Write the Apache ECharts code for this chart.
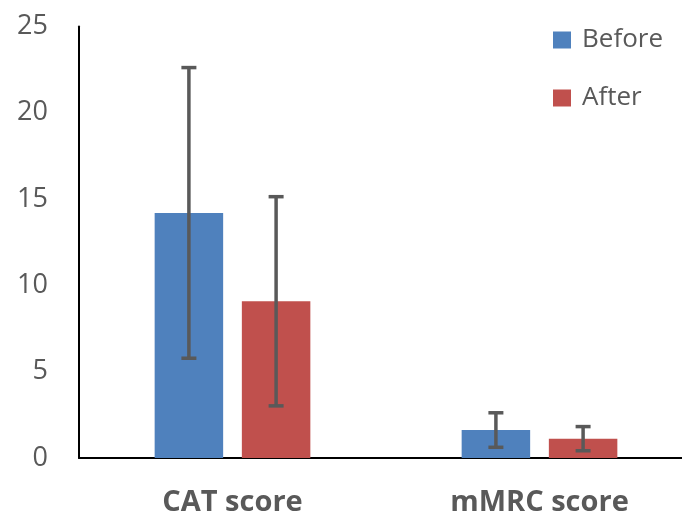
<!DOCTYPE html>
<html>
<head>
<meta charset="utf-8">
<script src="https://cdn.jsdelivr.net/npm/echarts@6/dist/echarts.min.js"></script>
<style>html,body{margin:0;padding:0;background:#fff}#c{width:682px;height:518px}</style>
</head>
<body>
<div id="c"></div>
<script>
var categories = ['CAT score', 'mMRC score'];
var beforeMean = [14.2, 1.62];
var beforeSD = [8.42, 1.0];
var afterMean = [9.08, 1.12];
var afterSD = [6.06, 0.7];
var yTicks = [0, 5, 10, 15, 20, 25];

var BAR_W = 68.5, BAR_GAP = 18.7;
var chart = echarts.init(document.getElementById('c'));

function errSeries(name, means, sds, sign) {
  var data = means.map(function (m, i) { return [i, m - sds[i], m + sds[i]]; });
  return {
    type: 'custom',
    name: name + ' err',
    data: data,
    z: 10,
    silent: true,
    renderItem: function (params, api) {
      var i = api.value(0);
      var lo = api.coord([i, api.value(1)]);
      var hi = api.coord([i, api.value(2)]);
      var x = lo[0] + sign * (BAR_W + BAR_GAP) / 2;
      var cap = 7.5;
      var st = { stroke: '#595959', lineWidth: 3.5 };
      return {
        type: 'group',
        children: [
          { type: 'line', shape: { x1: x, y1: lo[1], x2: x, y2: hi[1] }, style: st },
          { type: 'line', shape: { x1: x - cap, y1: lo[1], x2: x + cap, y2: lo[1] }, style: st },
          { type: 'line', shape: { x1: x - cap, y1: hi[1], x2: x + cap, y2: hi[1] }, style: st }
        ]
      };
    }
  };
}

chart.setOption({
  animation: false,
  backgroundColor: '#ffffff',
  grid: { left: 79, width: 614, top: 26.5, bottom: 60, containLabel: false, outerBoundsMode: 'none' },
  legend: {
    orient: 'vertical',
    left: 548,
    top: 22,
    itemWidth: 18,
    itemHeight: 17,
    itemGap: 32,
    icon: 'rect',
    data: ['Before', 'After'],
    textStyle: { fontFamily: 'Open Sans', fontSize: 26, color: '#595959', padding: [0, 0, 0, 6] }
  },
  xAxis: {
    type: 'category',
    data: categories,
    axisLine: { lineStyle: { color: '#000', width: 2 } },
    axisTick: { show: false },
    axisLabel: { margin: 30, fontFamily: 'Open Sans', fontWeight: 'bold', fontSize: 29, color: '#595959' }
  },
  yAxis: {
    type: 'value',
    min: 0, max: 25, interval: 5,
    axisLine: { show: true, lineStyle: { color: '#000', width: 2 } },
    axisTick: { show: false },
    splitLine: { show: false },
    axisLabel: {
      margin: 31, fontFamily: 'Open Sans', fontSize: 27, color: '#595959',
      formatter: function (v) { return yTicks.indexOf(v) >= 0 ? String(v) : ''; }
    }
  },
  series: [
    { type: 'bar', name: 'Before', data: beforeMean, barWidth: BAR_W, barGap: (BAR_GAP / BAR_W * 100) + '%', itemStyle: { color: '#4F81BD' } },
    { type: 'bar', name: 'After', data: afterMean, barWidth: BAR_W, itemStyle: { color: '#C0504D' } },
    errSeries('Before', beforeMean, beforeSD, -1),
    errSeries('After', afterMean, afterSD, 1)
  ]
});
</script>
</body>
</html>
